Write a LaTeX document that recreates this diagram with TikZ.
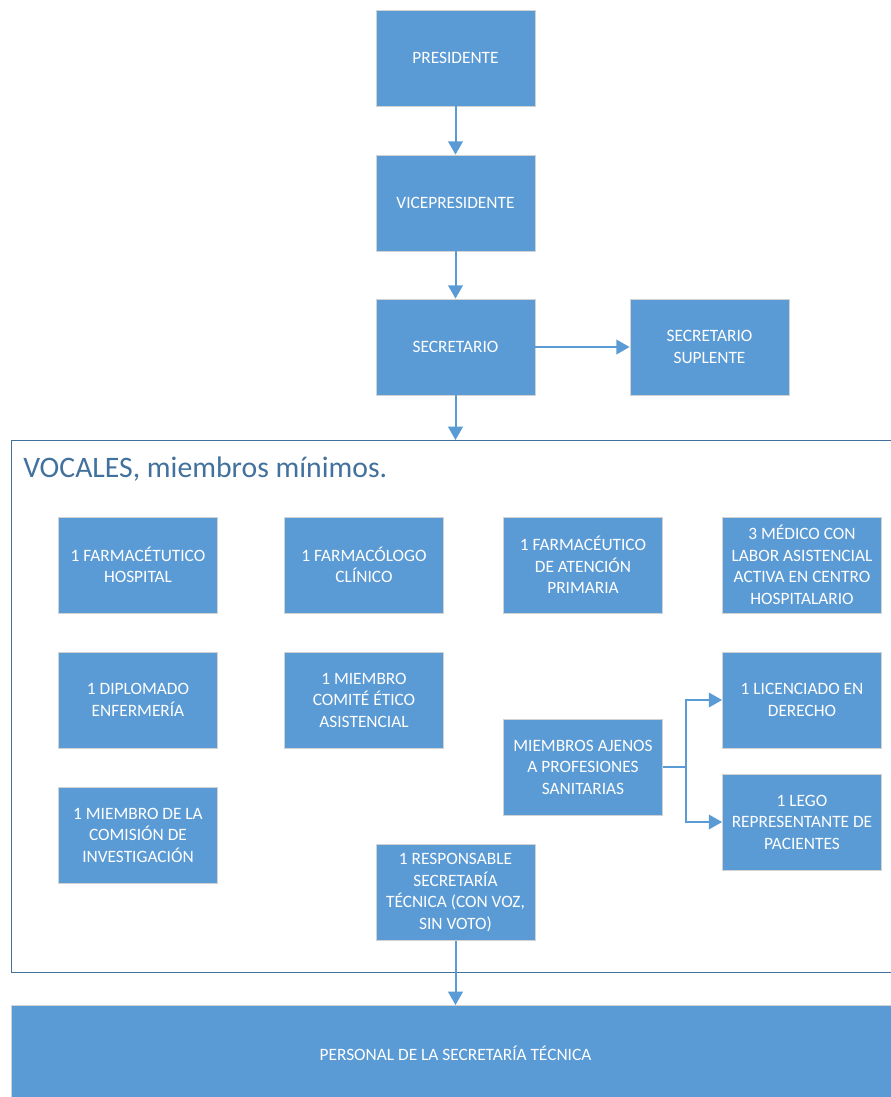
\documentclass[tikz,border=0pt]{standalone}
\usepackage{fontspec}
\setmainfont{Carlito}
\usetikzlibrary{arrows.meta}
\definecolor{boxblue}{HTML}{5B9BD5}
\definecolor{frameblue}{HTML}{41719C}
\begin{document}
\begin{tikzpicture}[x=0.75pt, y=-0.75pt,
    cargo/.style={rectangle, fill=boxblue, draw=gray!35, line width=0.6pt,
      text=white, align=center, minimum width=119.25pt, minimum height=72pt,
      inner sep=2pt, font=\fontsize{13}{16.1}\selectfont},
    flecha/.style={draw=boxblue, line width=1.5pt, -{Triangle[width=11pt,length=10pt]}}]
  \useasboundingbox (0,0) rectangle (890,1097);

  % Mesa
  \node[cargo] (pres) at (455.5,58) {PRESIDENTE};
  \node[cargo] (vice) at (455.5,203) {VICEPRESIDENTE};
  \node[cargo] (secr) at (455.5,347) {SECRETARIO};
  \node[cargo] (supl) at (709.5,347) {SECRETARIO\\SUPLENTE};

  % Marco de vocales
  \node[draw=frameblue, line width=1pt, minimum width=690pt, minimum height=399pt,
    inner sep=0pt, anchor=north west] (vocales) at (11,440) {};
  \node[anchor=base west, inner sep=0pt, text=frameblue,
    font=\fontsize{22.3}{27}\selectfont] (titulo) at (23,477) {VOCALES, miembros mínimos.};

  % Vocales
  \node[cargo] (farmhosp) at (138,565) {1 FARMACÉTUTICO\\HOSPITAL};
  \node[cargo] (farmclin) at (364,565) {1 FARMACÓLOGO\\CLÍNICO};
  \node[cargo] (farmprim) at (583,565) {1 FARMACÉUTICO\\DE ATENCIÓN\\PRIMARIA};
  \node[cargo] (medico) at (802,565) {3 MÉDICO CON\\LABOR ASISTENCIAL\\ACTIVA EN CENTRO\\HOSPITALARIO};
  \node[cargo] (dipl) at (138,700) {1 DIPLOMADO\\ENFERMERÍA};
  \node[cargo] (comite) at (364,700) {1 MIEMBRO\\COMITÉ ÉTICO\\ASISTENCIAL};
  \node[cargo] (licen) at (802,700) {1 LICENCIADO EN\\DERECHO};
  \node[cargo] (ajenos) at (583,767) {MIEMBROS AJENOS\\A PROFESIONES\\SANITARIAS};
  \node[cargo] (lego) at (802,822) {1 LEGO\\REPRESENTANTE DE\\PACIENTES};
  \node[cargo] (comision) at (138,835) {1 MIEMBRO DE LA\\COMISIÓN DE\\INVESTIGACIÓN};
  \node[cargo] (respon) at (455.5,892.5) {1 RESPONSABLE\\SECRETARÍA\\TÉCNICA (CON VOZ,\\SIN VOTO)};

  % Personal
  \node[cargo, minimum width=690pt, anchor=north west] (personal) at (11,1005) {};
  \node[text=white, font=\fontsize{13}{16.1}\selectfont] (personaltxt) at (455.5,1053) {PERSONAL DE LA SECRETARÍA TÉCNICA};

  % Flechas
  \coordinate (entrada) at (455.5,440);
  \coordinate (llegada) at (455.5,1005);
  \draw[flecha] (pres) -- (vice);
  \draw[flecha] (vice) -- (secr);
  \draw[flecha] (secr) -- (supl);
  \draw[flecha] (secr) -- (entrada);
  \coordinate (rama) at (686,767);
  \draw[flecha] (ajenos.east) -- (rama) |- (licen.west);
  \draw[flecha] (ajenos.east) -- (rama) |- (lego.west);
  \draw[flecha] (respon) -- (llegada);
\end{tikzpicture}
\end{document}
